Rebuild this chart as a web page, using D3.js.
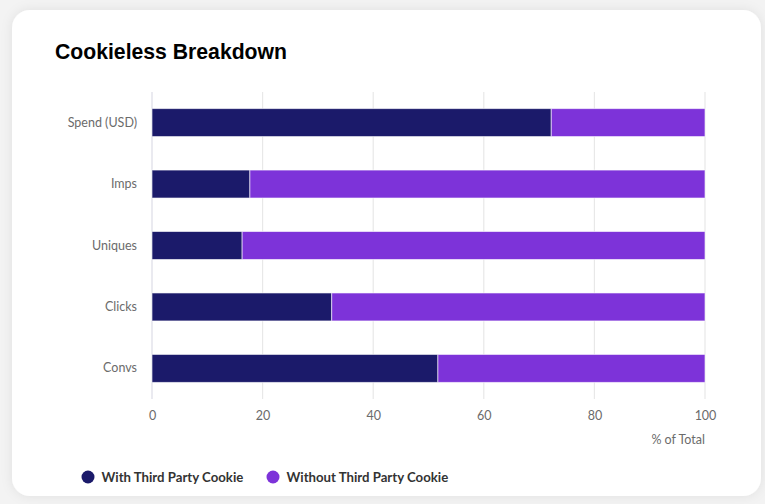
<!DOCTYPE html>
<html><head><meta charset="utf-8">
<script src="https://cdn.jsdelivr.net/npm/d3@7/dist/d3.min.js"></script>
<style>
html,body{margin:0;padding:0;background:#f3f3f3;}
svg{display:block;}
</style></head>
<body>
<svg id="chart" width="765" height="504"></svg>
<script>
const categories = ["Spend (USD)", "Imps", "Uniques", "Clicks", "Convs"];
const withCookie = [72.2, 17.7, 16.3, 32.5, 51.7];
const withoutCookie = [27.8, 82.3, 83.7, 67.5, 48.3];
const seriesNames = ["With Third Party Cookie", "Without Third Party Cookie"];
const xTicks = [0, 20, 40, 60, 80, 100];
const colors = ["#1b1a6a", "#7d33d9"];

const svg = d3.select("#chart");
const defs = svg.append("defs");
const f = defs.append("filter").attr("id","sh").attr("x","-10%").attr("y","-10%").attr("width","120%").attr("height","120%");
f.append("feDropShadow").attr("dx",0).attr("dy",0).attr("stdDeviation",6).attr("flood-color","#000").attr("flood-opacity",0.08);

svg.append("rect").attr("x",12).attr("y",10).attr("width",749).attr("height",486)
  .attr("rx",18).attr("fill","#fff").attr("filter","url(#sh)");

svg.append("text").attr("x",55).attr("y",58.5).text("Cookieless Breakdown")
  .attr("font-family","Liberation Sans, Arial, sans-serif").attr("font-weight","bold")
  .attr("font-size",21.2).attr("fill","#000");

const x = d3.scaleLinear().domain([0,100]).range([152,705]);
const y = d3.scaleBand().domain(categories).range([92,399]).paddingInner(0.545).paddingOuter(0.27);

const font = "Lato, 'Open Sans', sans-serif";
// grid
svg.append("g").selectAll("line").data(xTicks).join("line")
  .attr("x1",d=>x(d)).attr("x2",d=>x(d)).attr("y1",92).attr("y2",399)
  .attr("stroke",d=>d===0?"#dcdce6":"#e8e8e8").attr("stroke-width",1.2);

const xAxis = svg.append("g").attr("transform","translate(0,399)")
  .call(d3.axisBottom(x).tickValues(xTicks).tickSize(0).tickPadding(12.5));
xAxis.select(".domain").remove();
xAxis.selectAll("text").attr("font-family",font).attr("font-size",12.5).attr("fill","#6b6b6b");

const yAxis = svg.append("g").attr("transform","translate(152,0)")
  .call(d3.axisLeft(y).tickSize(0).tickPadding(15));
yAxis.select(".domain").remove();
yAxis.selectAll("text").attr("font-family",font).attr("font-size",12.5).attr("fill","#6b6b6b");

svg.append("text").attr("x",705).attr("y",444).attr("text-anchor","end")
  .attr("font-family",font).attr("font-size",12.5).attr("fill","#6b6b6b").text("% of Total");

const stackData = categories.map((c,i)=>({cat:c, a:withCookie[i], b:withoutCookie[i]}));
const stack = d3.stack().keys(["a","b"])(stackData);
svg.append("g").selectAll("g").data(stack).join("g")
  .attr("fill",(d,i)=>colors[i])
  .selectAll("rect").data(d=>d).join("rect")
  .attr("x",d=>x(d[0])).attr("width",d=>x(Math.min(d[1],100))-x(d[0]))
  .attr("y",d=>y(d.data.cat)).attr("height",y.bandwidth())
  .attr("stroke","#fff").attr("stroke-opacity",0.6).attr("stroke-width",1);

const legend = svg.append("g");
const lx = [88, 273];
seriesNames.forEach((n,i)=>{
  legend.append("circle").attr("cx",lx[i]).attr("cy",477).attr("r",6.5).attr("fill",colors[i]);
  legend.append("text").attr("x",lx[i]+13.5).attr("y",482).text(n)
    .attr("font-family",font).attr("font-weight","bold").attr("font-size",13.2).attr("fill","#333");
});
</script>
</body></html>
